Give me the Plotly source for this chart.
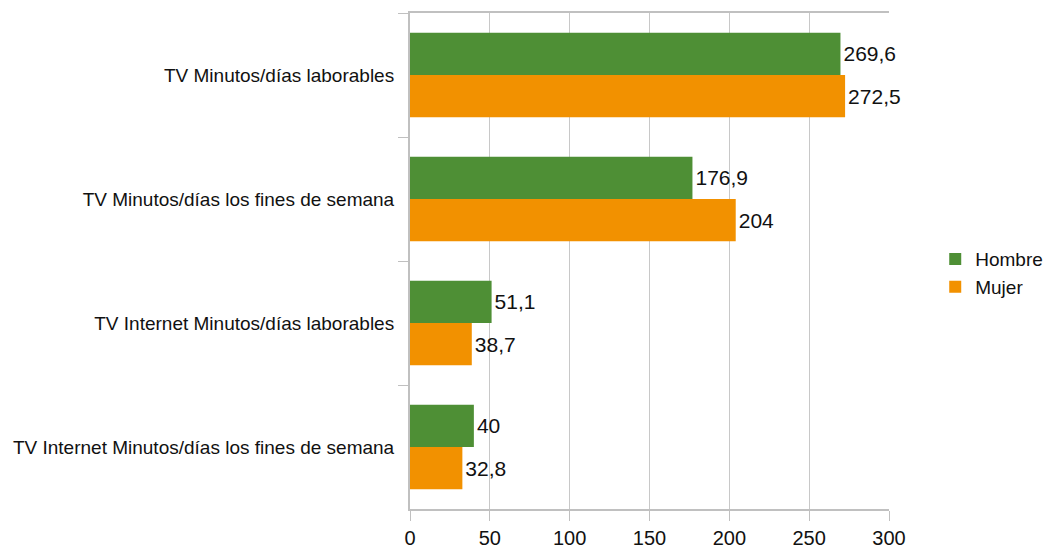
import plotly.graph_objects as go

categorias = ["TV Minutos/días laborables",
              "TV Minutos/días los fines de semana",
              "TV Internet Minutos/días laborables",
              "TV Internet Minutos/días los fines de semana"]
hombre = [269.6, 176.9, 51.1, 40]
mujer = [272.5, 204, 38.7, 32.8]
ticks_x = [0, 50, 100, 150, 200, 250, 300]


def etiqueta(v):
    return ("%g" % v).replace(".", ",")


fig = go.Figure()
fig.add_trace(go.Bar(y=categorias, x=hombre, orientation="h", name="Hombre",
                     marker=dict(color="#4e8f35", line=dict(width=0)),
                     text=[etiqueta(v) for v in hombre], textposition="outside",
                     textfont=dict(size=21, color="#111111"), cliponaxis=False))
fig.add_trace(go.Bar(y=categorias, x=mujer, orientation="h", name="Mujer",
                     marker=dict(color="#f29100", line=dict(width=0)),
                     text=[etiqueta(v) for v in mujer], textposition="outside",
                     textfont=dict(size=21, color="#111111"), cliponaxis=False))

# the page adds an 8px body margin, so the figure is sized to fit the window
fig.update_layout(
    width=1043, height=541,
    margin=dict(l=402, r=162, t=5, b=40),
    barmode="group", bargap=0.32, bargroupgap=0,
    plot_bgcolor="white", paper_bgcolor="white",
    font=dict(family="Liberation Sans, Arial, sans-serif", size=19, color="#111111"),
    legend=dict(xref="container", yref="container", x=0.889, y=0.51,
                xanchor="left", yanchor="middle",
                font=dict(size=19), itemwidth=30),
    xaxis=dict(range=[0, 300], tickvals=ticks_x, showgrid=True, gridcolor="#c8c8c8",
               gridwidth=1, showline=True, linecolor="#c0c0c0", linewidth=1.5,
               mirror=True, ticks="outside", ticklen=10, tickcolor="#c0c0c0",
               tickfont=dict(size=20), zeroline=False, automargin=False),
    yaxis=dict(autorange="reversed", showgrid=False, showline=True, linecolor="#c0c0c0",
               linewidth=2, ticks="outside", ticklen=10, tickcolor="#c0c0c0",
               tickson="boundaries", tickfont=dict(size=19), automargin=False,
               ticklabelstandoff=10),
)

fig.write_html("out.html")
